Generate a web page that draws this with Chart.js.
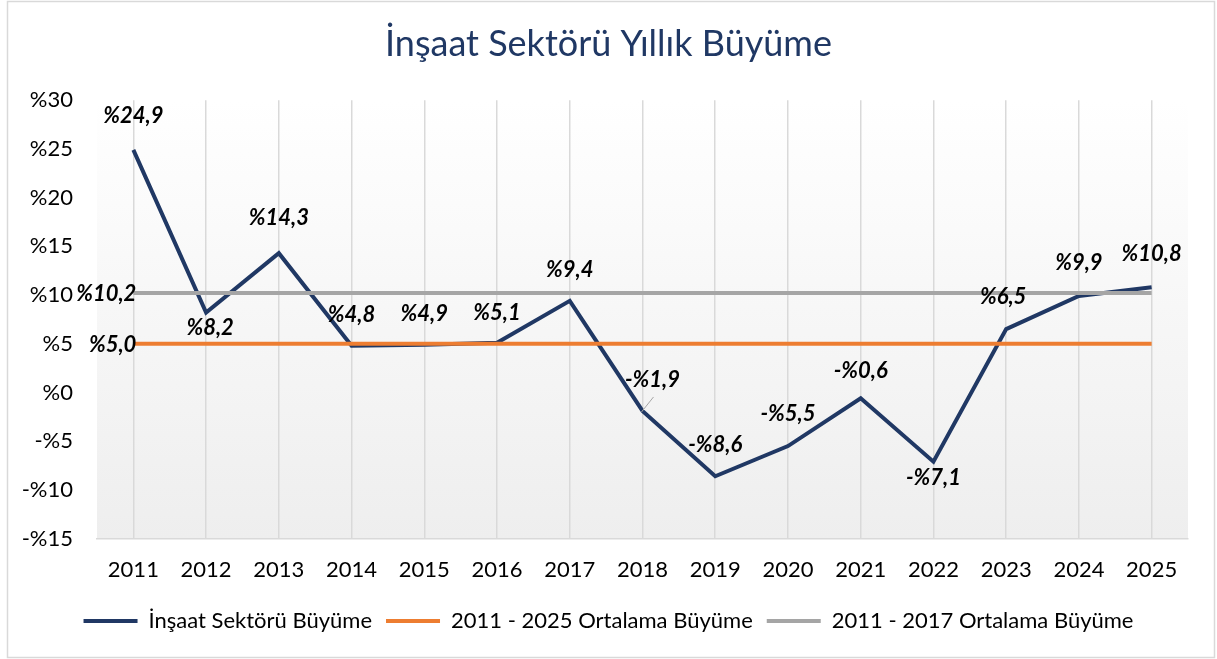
<!DOCTYPE html>
<html lang="tr">
<head>
<meta charset="utf-8">
<title>İnşaat Sektörü Yıllık Büyüme</title>
<script src="https://cdn.jsdelivr.net/npm/chart.js@4.4.1/dist/chart.umd.min.js"></script>
<style>
    html, body { margin: 0; padding: 0; background: #ffffff; }
    .chart-wrap { position: relative; width: 1217px; height: 659px; }
</style>
</head>
<body>
<div class="chart-wrap">
    <canvas id="growthChart"></canvas>
</div>
<script>
const years = ['2011', '2012', '2013', '2014', '2015', '2016', '2017', '2018', '2019', '2020', '2021', '2022', '2023', '2024', '2025'];
const sectorGrowth = [24.9, 8.2, 14.3, 4.8, 4.9, 5.1, 9.4, -1.9, -8.6, -5.5, -0.6, -7.1, 6.5, 9.9, 10.8];
const avg2011to2025 = [5.0, 5.0, 5.0, 5.0, 5.0, 5.0, 5.0, 5.0, 5.0, 5.0, 5.0, 5.0, 5.0, 5.0, 5.0];
const avg2011to2017 = [10.2, 10.2, 10.2, 10.2, 10.2, 10.2, 10.2, 10.2, 10.2, 10.2, 10.2, 10.2, 10.2, 10.2, 10.2];
const yTicks = [-15, -10, -5, 0, 5, 10, 15, 20, 25, 30];

// label nudges relative to each point (px)
const labelNudge = [[0, -34], [4, 15], [0, -35], [0, -31], [0, -31], [0, -30], [0, -31], [10, -31], [0, -31], [0, -32], [0, -27], [0, 16], [-3, -32], [0, -33], [0, -33]];

const FONT = 'Lato, "Open Sans", sans-serif';
const colors = {
    navy: '#203864',
    orange: '#ed7d31',
    gray: '#a5a5a5',
    grid: '#d9d9d9',
    text: '#000000',
};

const fmtPct = (v, digits) => {
    const s = Math.abs(v).toFixed(digits).replace('.', ',');
    return (v < 0 ? '-%' : '%') + s;
};

const plotBackground = {
    id: 'plotBackground',
    beforeDraw(chart) {
        const { ctx, chartArea: a, width, height } = chart;
        ctx.save();
        ctx.strokeStyle = '#d9d9d9';
        ctx.lineWidth = 1.5;
        ctx.strokeRect(7.5, 1.5, width - 10, height - 3);
        const g = ctx.createLinearGradient(0, a.top, 0, a.bottom);
        g.addColorStop(0, '#ffffff');
        g.addColorStop(1, '#eeeeee');
        ctx.fillStyle = g;
        ctx.fillRect(a.left, a.top, a.right - a.left, a.bottom - a.top);
        ctx.restore();
    },
};

const valueLabels = {
    id: 'valueLabels',
    afterDatasetsDraw(chart) {
        const { ctx } = chart;
        ctx.save();
        ctx.font = 'italic bold 22px ' + FONT;
        ctx.fillStyle = colors.text;
        ctx.textBaseline = 'middle';

        const main = chart.getDatasetMeta(0).data;
        ctx.textAlign = 'center';
        main.forEach((pt, i) => {
            const [dx, dy] = labelNudge[i];
            if (dx > 6) {
                ctx.strokeStyle = '#a6a6a6';
                ctx.lineWidth = 1;
                ctx.beginPath();
                ctx.moveTo(pt.x - 1, pt.y + 1);
                ctx.lineTo(pt.x + 11, pt.y - 14);
                ctx.stroke();
            }
            ctx.fillText(fmtPct(sectorGrowth[i], 1), pt.x + dx, pt.y + dy);
        });

        // average labels sit left of the first point
        ctx.textAlign = 'right';
        [[1, avg2011to2025], [2, avg2011to2017]].forEach(([idx, values]) => {
            const pt = chart.getDatasetMeta(idx).data[0];
            ctx.fillText(fmtPct(values[0], 1), pt.x + 3, pt.y + 1);
        });
        ctx.restore();
    },
};

const ctx = document.getElementById('growthChart').getContext('2d');

new Chart(ctx, {
    type: 'line',
    data: {
        labels: years,
        datasets: [
            {
                label: 'İnşaat Sektörü Büyüme',
                data: sectorGrowth,
                borderColor: colors.navy,
                backgroundColor: colors.navy,
                borderWidth: 4,
                pointRadius: 0,
                tension: 0,
                order: 3,
            },
            {
                label: '2011 - 2025 Ortalama Büyüme',
                data: avg2011to2025,
                borderColor: colors.orange,
                backgroundColor: colors.orange,
                borderWidth: 4,
                pointRadius: 0,
                order: 2,
            },
            {
                label: '2011 - 2017 Ortalama Büyüme',
                data: avg2011to2017,
                borderColor: colors.gray,
                backgroundColor: colors.gray,
                borderWidth: 4,
                pointRadius: 0,
                order: 1,
            },
        ],
    },
    options: {
        responsive: true,
        maintainAspectRatio: false,
        animation: false,
        layout: { padding: { left: 0, right: 0, top: 0, bottom: 17 } },
        plugins: {
            title: {
                display: true,
                text: 'İnşaat Sektörü Yıllık Büyüme',
                color: colors.navy,
                font: { family: FONT, size: 36, weight: 'normal' },
                padding: { top: 23, bottom: 34 },
            },
            legend: {
                position: 'bottom',
                labels: {
                    color: colors.text,
                    font: { family: FONT, size: 22 },
                    boxWidth: 54,
                    boxHeight: 4,
                    padding: 14,
                    generateLabels: (chart) => chart.data.datasets.map((ds, i) => ({
                        text: ds.label,
                        fillStyle: ds.borderColor,
                        strokeStyle: ds.borderColor,
                        lineWidth: 0,
                        fontColor: colors.text,
                        hidden: false,
                        datasetIndex: i,
                    })),
                },
            },
            tooltip: { enabled: false },
        },
        scales: {
            x: {
                offset: true,
                afterFit: (scale) => { scale.height -= 5; },
                grid: { color: colors.grid, lineWidth: 1.5, drawTicks: false, offset: false },
                border: { color: colors.grid, width: 1.5 },
                ticks: { color: colors.text, font: { family: FONT, size: 22 }, padding: 18, maxRotation: 0 },
            },
            y: {
                min: -15,
                max: 30,
                afterBuildTicks: (scale) => { scale.ticks = yTicks.map((v) => ({ value: v })); },
                afterFit: (scale) => { scale.width = 97; },
                grid: { display: false, drawTicks: false },
                border: { display: false },
                ticks: {
                    color: colors.text,
                    font: { family: FONT, size: 22 },
                    padding: 24,
                    callback: (v) => fmtPct(v, 0),
                },
            },
            // empty right-hand gutter so the title and legend centre on the full width
            gutter: {
                type: 'linear',
                position: 'right',
                afterFit: (scale) => { scale.width = 29; },
                grid: { display: false, drawTicks: false },
                border: { display: false },
                ticks: { display: false },
            },
        },
    },
    plugins: [plotBackground, valueLabels],
});
</script>
</body>
</html>
